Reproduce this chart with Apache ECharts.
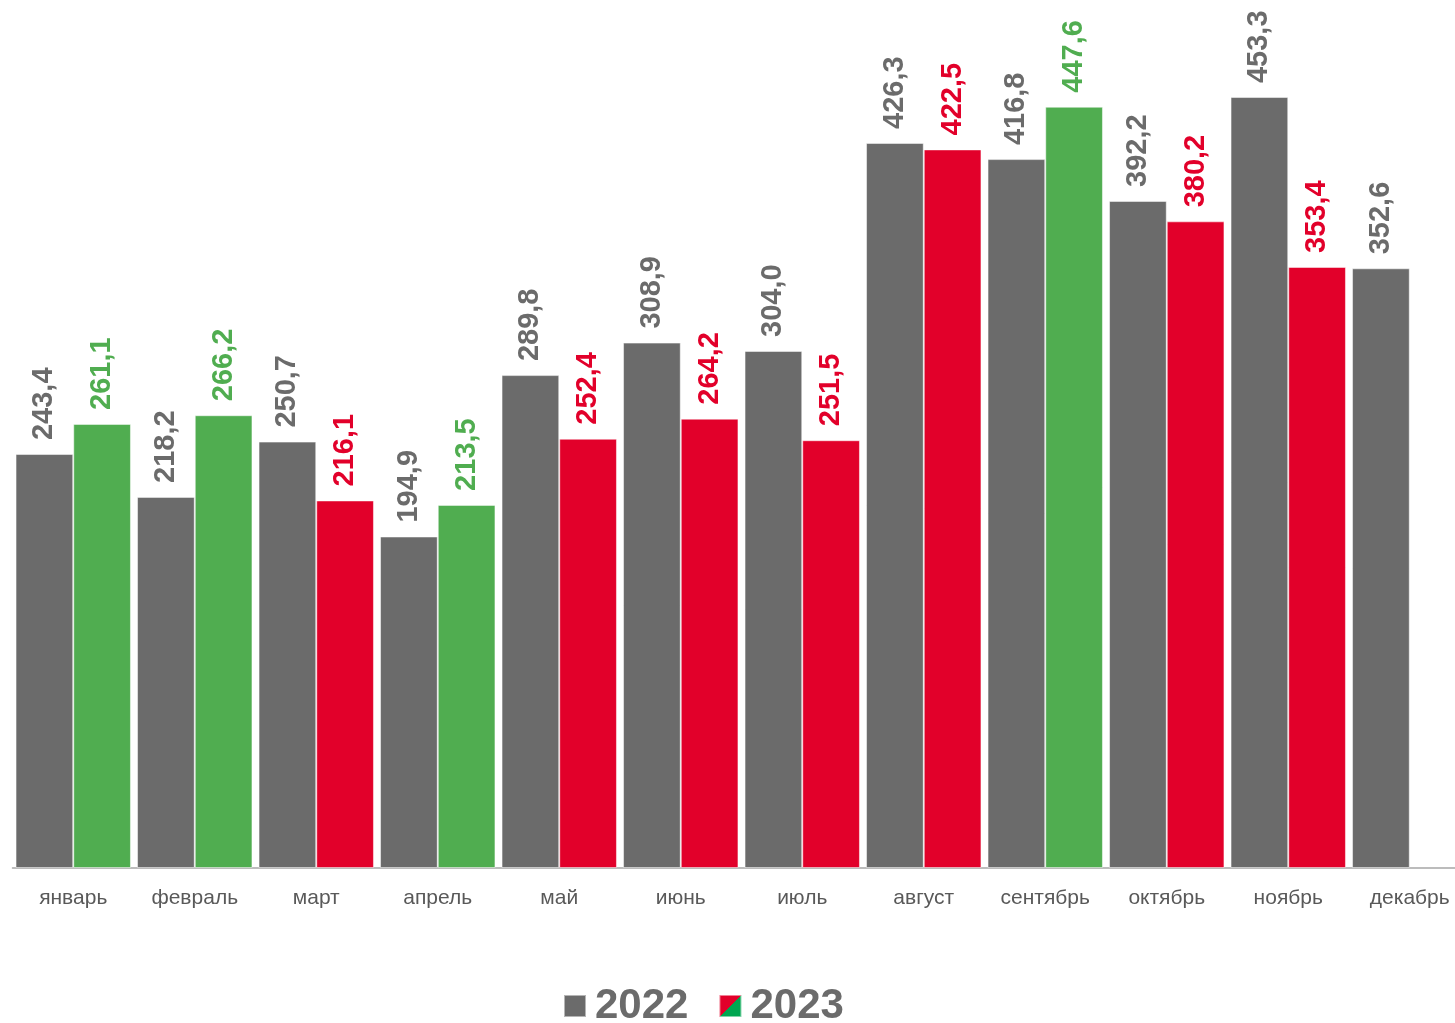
<!DOCTYPE html>
<html>
<head>
<meta charset="utf-8">
<script src="https://cdn.jsdelivr.net/npm/echarts@6/dist/echarts.min.js"></script>
<style>
html,body{margin:0;padding:0;background:#fff;overflow:hidden;width:1455px;height:1023px;}
#chart{width:1471px;height:1023px;}
</style>
</head>
<body>
<div id="chart"></div>
<script>
const months = ['январь','февраль','март','апрель','май','июнь','июль','август','сентябрь','октябрь','ноябрь','декабрь'];
const values2022 = [243.4, 218.2, 250.7, 194.9, 289.8, 308.9, 304.0, 426.3, 416.8, 392.2, 453.3, 352.6];
const values2023 = [261.1, 266.2, 216.1, 213.5, 252.4, 264.2, 251.5, 422.5, 447.6, 380.2, 353.4, null];

const GRAY = '#6b6b6b';
const GREEN = '#50ad50';
const RED = '#e2002a';
const FONT = '"Liberation Sans", Arial, sans-serif';

const fmt = v => (v == null ? '' : v.toFixed(1).replace('.', ','));

const data2023 = values2023.map((v, i) => {
  if (v == null) return null;
  const c = v >= values2022[i] ? GREEN : RED;
  return { value: v, itemStyle: { color: c }, label: { color: c } };
});

const chart = echarts.init(document.getElementById('chart'));
chart.setOption({
  animation: false,
  grid: { left: 12.5, width: 1458, top: 17.6, height: 850.4, containLabel: false },
  xAxis: {
    type: 'category',
    data: months,
    axisLine: { show: true, lineStyle: { color: '#a6a6a6', width: 1.5 } },
    axisTick: { show: false },
    axisLabel: { color: '#595959', fontSize: 21, fontFamily: FONT, margin: 20 }
  },
  yAxis: { type: 'value', min: 0, max: 500, show: false, splitLine: { show: false } },
  legend: {
    bottom: -9,
    left: 558,
    itemWidth: 22,
    itemHeight: 22,
    itemGap: 30,
    icon: 'rect',
    textStyle: { fontSize: 42, fontWeight: 'bold', color: '#6b6b6b', fontFamily: FONT, padding: [0, 0, 0, 4] },
    data: ['2022', '2023']
  },
  series: [
    {
      name: '2022',
      type: 'bar',
      data: values2022,
      barGap: '0%',
      barCategoryGap: '5%',
      itemStyle: { color: GRAY, borderColor: 'rgba(255,255,255,0.5)', borderWidth: 1 },
      label: {
        show: true, position: 'top', rotate: 90, align: 'left', verticalAlign: 'middle',
        distance: 14, fontSize: 29, fontWeight: 'bold', color: '#6b6b6b', fontFamily: FONT,
        formatter: p => fmt(p.value)
      }
    },
    {
      name: '2023',
      type: 'bar',
      data: data2023,
      itemStyle: {
        color: new echarts.graphic.LinearGradient(0, 0, 1, 1, [
          { offset: 0, color: RED }, { offset: 0.5, color: RED },
          { offset: 0.5, color: '#00a650' }, { offset: 1, color: '#00a650' }
        ]),
        borderColor: 'rgba(255,255,255,0.5)', borderWidth: 1
      },
      label: {
        show: true, position: 'top', rotate: 90, align: 'left', verticalAlign: 'middle',
        distance: 14, fontSize: 29, fontWeight: 'bold', fontFamily: FONT,
        formatter: p => fmt(p.value)
      }
    }
  ]
});
</script>
</body>
</html>
